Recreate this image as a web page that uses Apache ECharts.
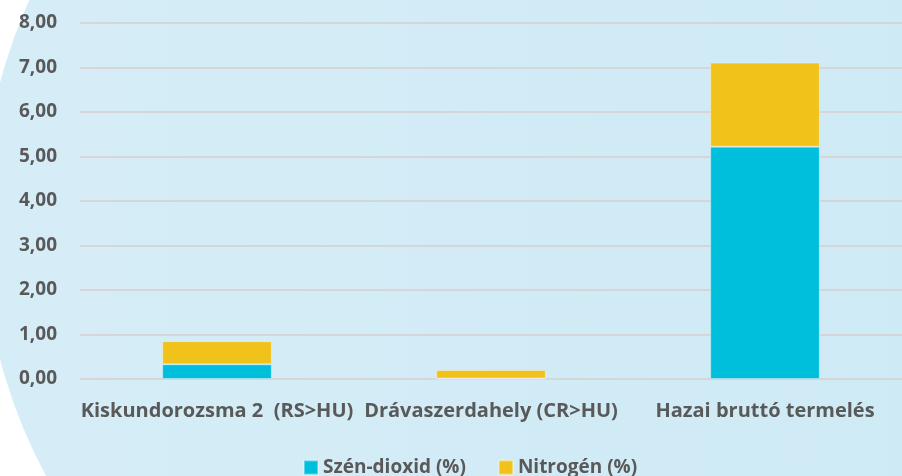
<!DOCTYPE html>
<html>
<head>
<meta charset="utf-8">
<script src="https://cdn.jsdelivr.net/npm/echarts@6/dist/echarts.min.js"></script>
<style>
  html, body { margin: 0; padding: 0; background: #ffffff; }
  #chart { width: 902px; height: 476px; }
</style>
</head>
<body>
<div id="chart"></div>
<script>
var chart = echarts.init(document.getElementById("chart"));

// adatok
var categories = ['Kiskundorozsma 2  (RS>HU)', 'Drávaszerdahely (CR>HU)', 'Hazai bruttó termelés'];
var co2 = [0.33, 0.01, 5.22];
var nitrogen = [0.52, 0.19, 1.89];
var seriesNames = ['Szén-dioxid (%)', 'Nitrogén (%)'];

var textColor = '#595959';
var fontFam = '"Open Sans", sans-serif';

var option = {
    animation: false,
    backgroundColor: '#ffffff',
    graphic: [
        {
            type: 'circle',
            z: -10,
            silent: true,
            shape: { cx: 522, cy: 221, r: 540 },
            style: {
                fill: new echarts.graphic.LinearGradient(0, 0, 1, 0, [
                    { offset: 0, color: '#d6edf7' },
                    { offset: 1, color: '#cdeaf5' }
                ])
            }
        }
    ],
    grid: {
        left: 80,
        right: -4,
        top: 23,
        bottom: 97,
        containLabel: false
    },
    legend: {
        data: seriesNames,
        left: 298,
        top: 453,
        itemWidth: 14,
        itemHeight: 14,
        itemGap: 32,
        icon: 'rect',
        textStyle: {
            color: textColor,
            fontFamily: fontFam,
            fontWeight: 'bold',
            fontSize: 19
        }
    },
    xAxis: {
        type: 'category',
        data: categories,
        axisLine: { show: false },
        axisTick: { show: false },
        axisLabel: {
            interval: 0,
            margin: 22,
            color: textColor,
            fontFamily: fontFam,
            fontWeight: 'bold',
            fontSize: 20
        }
    },
    yAxis: {
        type: 'value',
        min: 0,
        max: 8,
        interval: 1,
        axisLine: { show: false },
        axisTick: { show: false },
        splitLine: { lineStyle: { color: '#d6d6d6', width: 2 } },
        axisLabel: {
            margin: 23,
            color: textColor,
            fontFamily: fontFam,
            fontWeight: 'bold',
            fontSize: 19,
            formatter: function (v) { return v.toFixed(2).replace('.', ','); }
        }
    },
    series: [
        {
            name: seriesNames[0],
            type: 'bar',
            stack: 'total',
            barWidth: '40%',
            itemStyle: { color: '#00bfdc', borderColor: 'rgba(255,255,255,0.35)', borderWidth: 1 },
            data: co2
        },
        {
            name: seriesNames[1],
            type: 'bar',
            stack: 'total',
            barWidth: '40%',
            itemStyle: { color: '#f0c21a', borderColor: 'rgba(255,255,255,0.35)', borderWidth: 1 },
            data: nitrogen
        }
    ]
};

chart.setOption(option, true);
</script>
</body>
</html>
